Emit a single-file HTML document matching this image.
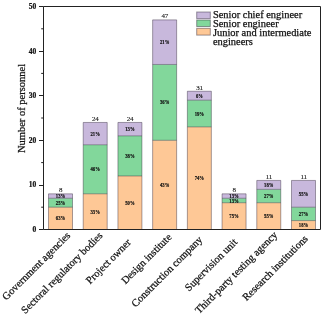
<!DOCTYPE html>
<html><head><meta charset="utf-8"><style>
html,body{margin:0;padding:0;background:#fff;}
svg{display:block;will-change:transform;}
text{font-family:"Liberation Serif",serif;fill:#111;}
.pl{font-size:6.2px;font-weight:bold;text-anchor:middle;stroke:#111;stroke-width:0.2px;}
.pt{font-size:7px;text-anchor:middle;letter-spacing:-0.2px;stroke:#111;stroke-width:0.1px;}
.yt{font-size:7.5px;font-weight:bold;text-anchor:end;stroke:#111;stroke-width:0.2px;}
.xl{font-size:10.5px;text-anchor:end;stroke:#111;stroke-width:0.25px;}
.lg{font-size:10.45px;stroke:#111;stroke-width:0.25px;}
.yl{font-size:10.5px;text-anchor:middle;stroke:#111;stroke-width:0.25px;}
</style></head><body>
<svg width="324" height="317" viewBox="0 0 324 317">
<rect width="324" height="317" fill="#fff"/>
<rect x="48.50" y="207.20" width="24.00" height="22.30" fill="#FEC896"/><rect x="48.50" y="198.28" width="24.00" height="8.92" fill="#82D79B"/><rect x="48.50" y="193.82" width="24.00" height="4.46" fill="#C8B8DC"/><path d="M48.50 229.50V193.82H72.50V229.50M48.50 207.20H72.50M48.50 198.28H72.50" fill="none" stroke="rgba(40,30,50,0.45)" stroke-width="0.9"/><text x="60.50" y="220.35" class="pl" textLength="9.4" lengthAdjust="spacingAndGlyphs">63%</text><text x="60.50" y="204.74" class="pl" textLength="9.4" lengthAdjust="spacingAndGlyphs">25%</text><text x="60.50" y="198.05" class="pl" textLength="9.4" lengthAdjust="spacingAndGlyphs">13%</text><text x="60.65" y="192.12" class="pt">8</text><rect x="83.21" y="193.82" width="24.00" height="35.68" fill="#FEC896"/><rect x="83.21" y="144.76" width="24.00" height="49.06" fill="#82D79B"/><rect x="83.21" y="122.46" width="24.00" height="22.30" fill="#C8B8DC"/><path d="M83.21 229.50V122.46H107.21V229.50M83.21 193.82H107.21M83.21 144.76H107.21" fill="none" stroke="rgba(40,30,50,0.45)" stroke-width="0.9"/><text x="95.21" y="213.66" class="pl" textLength="9.4" lengthAdjust="spacingAndGlyphs">33%</text><text x="95.21" y="171.29" class="pl" textLength="9.4" lengthAdjust="spacingAndGlyphs">46%</text><text x="95.21" y="135.61" class="pl" textLength="9.4" lengthAdjust="spacingAndGlyphs">21%</text><text x="95.36" y="120.76" class="pt">24</text><rect x="117.93" y="175.98" width="24.00" height="53.52" fill="#FEC896"/><rect x="117.93" y="135.84" width="24.00" height="40.14" fill="#82D79B"/><rect x="117.93" y="122.46" width="24.00" height="13.38" fill="#C8B8DC"/><path d="M117.93 229.50V122.46H141.93V229.50M117.93 175.98H141.93M117.93 135.84H141.93" fill="none" stroke="rgba(40,30,50,0.45)" stroke-width="0.9"/><text x="129.93" y="204.74" class="pl" textLength="9.4" lengthAdjust="spacingAndGlyphs">50%</text><text x="129.93" y="157.91" class="pl" textLength="9.4" lengthAdjust="spacingAndGlyphs">38%</text><text x="129.93" y="131.15" class="pl" textLength="9.4" lengthAdjust="spacingAndGlyphs">13%</text><text x="130.08" y="120.76" class="pt">24</text><rect x="152.64" y="140.30" width="24.00" height="89.20" fill="#FEC896"/><rect x="152.64" y="64.48" width="24.00" height="75.82" fill="#82D79B"/><rect x="152.64" y="19.88" width="24.00" height="44.60" fill="#C8B8DC"/><path d="M152.64 229.50V19.88H176.64V229.50M152.64 140.30H176.64M152.64 64.48H176.64" fill="none" stroke="rgba(40,30,50,0.45)" stroke-width="0.9"/><text x="164.64" y="186.90" class="pl" textLength="9.4" lengthAdjust="spacingAndGlyphs">43%</text><text x="164.64" y="104.39" class="pl" textLength="9.4" lengthAdjust="spacingAndGlyphs">36%</text><text x="164.64" y="44.18" class="pl" textLength="9.4" lengthAdjust="spacingAndGlyphs">21%</text><text x="164.79" y="18.18" class="pt">47</text><rect x="187.36" y="126.92" width="24.00" height="102.58" fill="#FEC896"/><rect x="187.36" y="100.16" width="24.00" height="26.76" fill="#82D79B"/><rect x="187.36" y="91.24" width="24.00" height="8.92" fill="#C8B8DC"/><path d="M187.36 229.50V91.24H211.36V229.50M187.36 126.92H211.36M187.36 100.16H211.36" fill="none" stroke="rgba(40,30,50,0.45)" stroke-width="0.9"/><text x="199.36" y="180.21" class="pl" textLength="9.4" lengthAdjust="spacingAndGlyphs">74%</text><text x="199.36" y="115.54" class="pl" textLength="9.4" lengthAdjust="spacingAndGlyphs">19%</text><text x="199.36" y="97.70" class="pl" textLength="6.8" lengthAdjust="spacingAndGlyphs">6%</text><text x="199.51" y="89.54" class="pt">31</text><rect x="222.07" y="202.74" width="24.00" height="26.76" fill="#FEC896"/><rect x="222.07" y="198.28" width="24.00" height="4.46" fill="#82D79B"/><rect x="222.07" y="193.82" width="24.00" height="4.46" fill="#C8B8DC"/><path d="M222.07 229.50V193.82H246.07V229.50M222.07 202.74H246.07M222.07 198.28H246.07" fill="none" stroke="rgba(40,30,50,0.45)" stroke-width="0.9"/><text x="234.07" y="218.12" class="pl" textLength="9.4" lengthAdjust="spacingAndGlyphs">75%</text><text x="234.07" y="202.51" class="pl" textLength="9.4" lengthAdjust="spacingAndGlyphs">13%</text><text x="234.07" y="198.05" class="pl" textLength="9.4" lengthAdjust="spacingAndGlyphs">13%</text><text x="234.22" y="192.12" class="pt">8</text><rect x="256.78" y="202.74" width="24.00" height="26.76" fill="#FEC896"/><rect x="256.78" y="189.36" width="24.00" height="13.38" fill="#82D79B"/><rect x="256.78" y="180.44" width="24.00" height="8.92" fill="#C8B8DC"/><path d="M256.78 229.50V180.44H280.78V229.50M256.78 202.74H280.78M256.78 189.36H280.78" fill="none" stroke="rgba(40,30,50,0.45)" stroke-width="0.9"/><text x="268.78" y="218.12" class="pl" textLength="9.4" lengthAdjust="spacingAndGlyphs">55%</text><text x="268.78" y="198.05" class="pl" textLength="9.4" lengthAdjust="spacingAndGlyphs">27%</text><text x="268.78" y="186.90" class="pl" textLength="9.4" lengthAdjust="spacingAndGlyphs">18%</text><text x="268.93" y="178.74" class="pt">11</text><rect x="291.50" y="220.58" width="24.00" height="8.92" fill="#FEC896"/><rect x="291.50" y="207.20" width="24.00" height="13.38" fill="#82D79B"/><rect x="291.50" y="180.44" width="24.00" height="26.76" fill="#C8B8DC"/><path d="M291.50 229.50V180.44H315.50V229.50M291.50 220.58H315.50M291.50 207.20H315.50" fill="none" stroke="rgba(40,30,50,0.45)" stroke-width="0.9"/><text x="303.50" y="227.04" class="pl" textLength="9.4" lengthAdjust="spacingAndGlyphs">18%</text><text x="303.50" y="215.89" class="pl" textLength="9.4" lengthAdjust="spacingAndGlyphs">27%</text><text x="303.50" y="195.82" class="pl" textLength="9.4" lengthAdjust="spacingAndGlyphs">55%</text><text x="303.65" y="178.74" class="pt">11</text>
<path d="M43.5 6.5 H320.5 V229.5 H43.5 Z" fill="none" stroke="#222" stroke-width="1"/>
<line x1="39" y1="229.50" x2="43.5" y2="229.50" stroke="#222" stroke-width="1"/><text x="36.3" y="232.05" class="yt">0</text><line x1="39" y1="185.50" x2="43.5" y2="185.50" stroke="#222" stroke-width="1"/><text x="36.3" y="187.45" class="yt">10</text><line x1="39" y1="140.50" x2="43.5" y2="140.50" stroke="#222" stroke-width="1"/><text x="36.3" y="142.85" class="yt">20</text><line x1="39" y1="95.50" x2="43.5" y2="95.50" stroke="#222" stroke-width="1"/><text x="36.3" y="98.25" class="yt">30</text><line x1="39" y1="51.50" x2="43.5" y2="51.50" stroke="#222" stroke-width="1"/><text x="36.3" y="53.65" class="yt">40</text><line x1="39" y1="6.50" x2="43.5" y2="6.50" stroke="#222" stroke-width="1"/><text x="36.3" y="9.05" class="yt">50</text><line x1="41.2" y1="207.20" x2="43.5" y2="207.20" stroke="#222" stroke-width="1"/><line x1="41.2" y1="162.60" x2="43.5" y2="162.60" stroke="#222" stroke-width="1"/><line x1="41.2" y1="118.00" x2="43.5" y2="118.00" stroke="#222" stroke-width="1"/><line x1="41.2" y1="73.40" x2="43.5" y2="73.40" stroke="#222" stroke-width="1"/><line x1="41.2" y1="28.80" x2="43.5" y2="28.80" stroke="#222" stroke-width="1"/>
<text transform="translate(70.90,236.10) rotate(-45)" class="xl">Government agencies</text><text transform="translate(103.20,236.20) rotate(-45)" class="xl">Sectoral regulatory bodies</text><text transform="translate(131.50,243.10) rotate(-45)" class="xl">Project owner</text><text transform="translate(172.20,237.80) rotate(-45)" class="xl">Design institute</text><text transform="translate(203.00,240.20) rotate(-45)" class="xl">Construction company</text><text transform="translate(237.90,242.80) rotate(-45)" class="xl">Supervision unit</text><text transform="translate(278.00,235.50) rotate(-45)" class="xl">Third-party testing agency</text><text transform="translate(308.50,239.30) rotate(-45)" class="xl">Research institutions</text>

<rect x="196.7" y="12" width="13.6" height="6.6" fill="#C8B8DC" stroke="rgba(40,30,50,0.45)" stroke-width="1"/>
<rect x="196.7" y="20" width="13.6" height="6.5" fill="#82D79B" stroke="rgba(40,30,50,0.45)" stroke-width="1"/>
<rect x="196.7" y="28.3" width="13.6" height="6.8" fill="#FEC896" stroke="rgba(40,30,50,0.45)" stroke-width="1"/>
<text x="212.9" y="18.2" class="lg">Senior chief engineer</text>
<text x="212.9" y="26.8" class="lg">Senior engineer</text>
<text x="212.9" y="36.1" class="lg">Junior and intermediate</text>
<text x="212.9" y="45.3" class="lg">engineers</text>

<text transform="translate(25.3,108.5) rotate(-90)" class="yl">Number of personnel</text>
</svg>
</body></html>
